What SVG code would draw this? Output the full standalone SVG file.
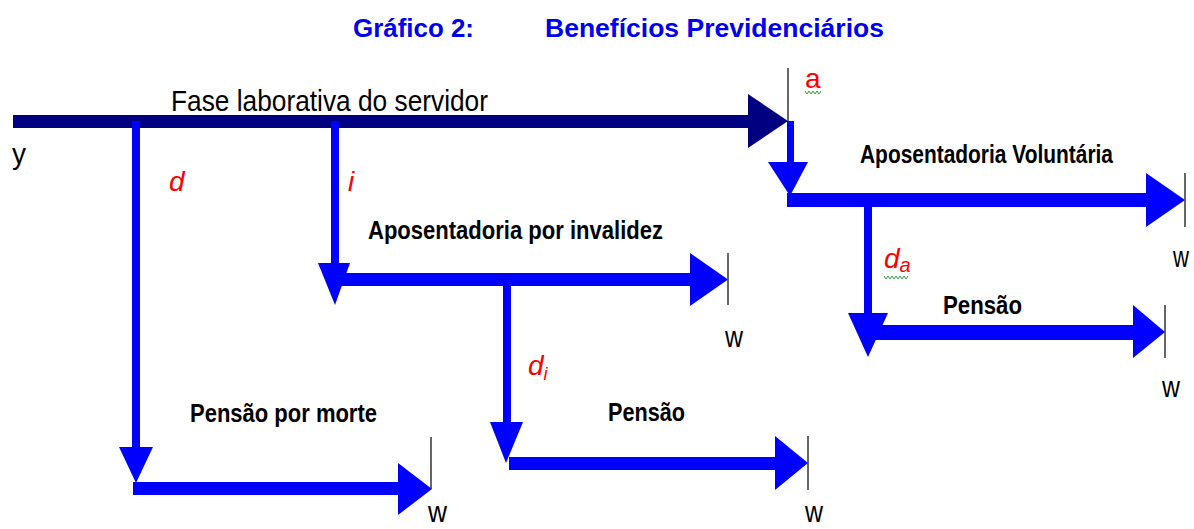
<svg xmlns="http://www.w3.org/2000/svg" width="1194" height="529" viewBox="0 0 1194 529">
<style>
.title{font-family:"Liberation Sans",Arial,sans-serif;font-weight:bold;font-size:26px;fill:#0000f0}
.lbl{font-family:"Liberation Sans",Arial,sans-serif;font-weight:bold;font-size:25px;fill:#000}
.reg{font-family:"Liberation Sans",Arial,sans-serif;font-size:30px;fill:#000}
.red{font-family:"Liberation Sans",Arial,sans-serif;font-size:28px;fill:#ff0000}
.it{font-style:italic}
.nav{fill:#000080}
.blu{fill:#0000ff}
.tick{stroke:#333;stroke-width:1.5}
.sq{fill:none;stroke:#3a9a3a;stroke-width:1}
</style>
<rect width="1194" height="529" fill="#fff"/>
<g id="title">
<text class="title" x="353" y="37" textLength="121" lengthAdjust="spacingAndGlyphs">Gráfico 2:</text>
<text class="title" x="545" y="37" textLength="339" lengthAdjust="spacingAndGlyphs">Benefícios Previdenciários</text>
</g>
<g id="connectors">
<!-- main navy arrow -->
<rect class="nav" x="13" y="115" width="737" height="13"/>
<polygon class="nav" points="748,94 788,121 748,148"/>
<line class="tick" x1="788" y1="68" x2="788" y2="121"/>
<!-- a branch -->
<rect class="blu" x="787" y="121" width="7" height="43"/>
<polygon class="blu" points="768,162 808,162 790,196"/>
<rect class="blu" x="787" y="193" width="361" height="14"/>
<polygon class="blu" points="1146,173 1185,200 1146,227"/>
<line class="tick" x1="1185" y1="173" x2="1185" y2="227"/>
<!-- d_a branch -->
<rect class="blu" x="864" y="207" width="8" height="107"/>
<polygon class="blu" points="848,313 888,313 868,357"/>
<rect class="blu" x="868" y="325" width="267" height="15"/>
<polygon class="blu" points="1133,305 1165,332 1133,358"/>
<line class="tick" x1="1165" y1="305" x2="1165" y2="358"/>
<!-- i branch -->
<rect class="blu" x="331" y="121" width="8" height="143"/>
<polygon class="blu" points="318,263 350,263 335,305"/>
<rect class="blu" x="340" y="273" width="352" height="13"/>
<polygon class="blu" points="690,253 728,279.5 690,306"/>
<line class="tick" x1="728" y1="253" x2="728" y2="305"/>
<!-- d_i branch -->
<rect class="blu" x="503" y="286" width="8" height="137"/>
<polygon class="blu" points="490,422 523,422 506,463"/>
<rect class="blu" x="509" y="457" width="268" height="13"/>
<polygon class="blu" points="775,436 808,463 775,490"/>
<line class="tick" x1="808" y1="436" x2="808" y2="490"/>
<!-- d branch -->
<rect class="blu" x="132" y="121" width="8" height="327"/>
<polygon class="blu" points="119,447 153,447 136,483"/>
<rect class="blu" x="133" y="482" width="267" height="13"/>
<polygon class="blu" points="398,463 432,489 398,515"/>
<line class="tick" x1="431" y1="437" x2="431" y2="489"/>
</g>
<g id="fase">
<text class="reg" x="171" y="111" font-size="32" textLength="317" lengthAdjust="spacingAndGlyphs">Fase laborativa do servidor</text>
<text class="reg" x="12" y="164" font-size="32" textLength="14" lengthAdjust="spacingAndGlyphs">y</text>
</g>
<g id="voluntaria">
<text class="lbl" x="860" y="163" font-size="27" textLength="253" lengthAdjust="spacingAndGlyphs">Aposentadoria Voluntária</text>
<text class="red" x="805" y="88" font-size="32">a</text>
<polyline class="sq" points="805,91 807,94 809,91 811,94 813,91 815,94 817,91 819,94 821,91"/>
<text class="reg" x="1173" y="267" textLength="16" lengthAdjust="spacingAndGlyphs">w</text>
</g>
<g id="pensao-a">
<text class="lbl" x="943" y="314" textLength="79" lengthAdjust="spacingAndGlyphs">Pensão</text>
<text class="red it" x="884" y="268">d<tspan font-size="20" dy="4">a</tspan></text>
<polyline class="sq" points="884,276 886,279 888,276 890,279 892,276 894,279 896,276 898,279 900,276 902,279 904,276 906,279 908,276"/>
<text class="reg" x="1162" y="397" textLength="18" lengthAdjust="spacingAndGlyphs">w</text>
</g>
<g id="invalidez">
<text class="lbl" x="368" y="239" textLength="295" lengthAdjust="spacingAndGlyphs">Aposentadoria por invalidez</text>
<text class="red it" x="348" y="191">i</text>
<text class="reg" x="725" y="347" textLength="18" lengthAdjust="spacingAndGlyphs">w</text>
</g>
<g id="pensao-i">
<text class="lbl" x="608" y="421" textLength="77" lengthAdjust="spacingAndGlyphs">Pensão</text>
<text class="red it" x="528" y="375">d<tspan font-size="18" dy="5">i</tspan></text>
<text class="reg" x="805" y="522" font-size="28" textLength="18" lengthAdjust="spacingAndGlyphs">w</text>
</g>
<g id="morte">
<text class="lbl" x="190" y="422" textLength="187" lengthAdjust="spacingAndGlyphs">Pensão por morte</text>
<text class="red it" x="169" y="191">d</text>
<text class="reg" x="428" y="522" font-size="28" textLength="19" lengthAdjust="spacingAndGlyphs">w</text>
</g>
</svg>
